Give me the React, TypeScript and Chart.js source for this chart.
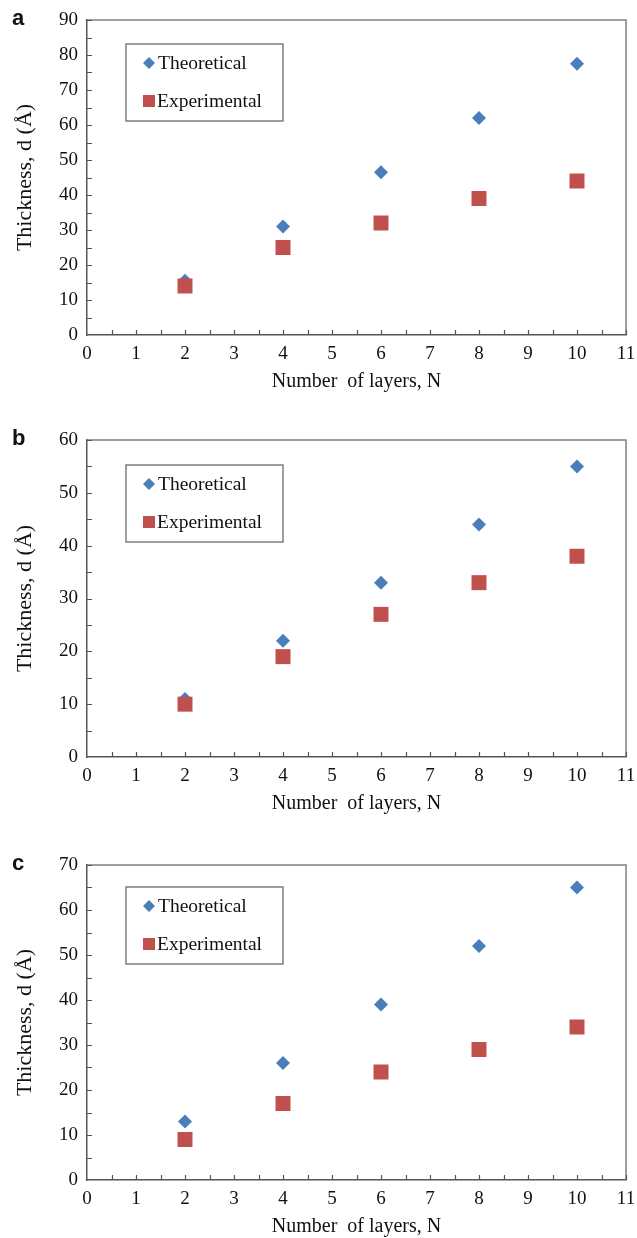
import React, { useEffect, useRef } from "react";
import { Chart, registerables } from "chart.js";

Chart.register(...registerables);

// Number of layers on the x axis
const layers = [2, 4, 6, 8, 10];

// Panel a
const theoreticalA = [15.5, 31, 46.5, 62, 77.5];
const experimentalA = [14, 25, 32, 39, 44];

// Panel b
const theoreticalB = [11, 22, 33, 44, 55];
const experimentalB = [10, 19, 27, 33, 38];

// Panel c
const theoreticalC = [13, 26, 39, 52, 65];
const experimentalC = [9, 17, 24, 29, 34];

const xMax = 11;
const yMaxes = [90, 60, 70];
const panelLetters = ["a", "b", "c"];
const seriesLabels = ["Theoretical", "Experimental"];
const xTitle = "Number  of layers, N";
const yTitle = "Thickness, d (Å)";

const BLUE = "#4a7ebb";
const RED = "#c0504d";
const AXIS = "#555555";
const FRAME = "#808080";
const SERIF = "'Liberation Serif', 'Times New Roman', serif";

type PanelGeom = {
  top: number;
  height: number;
  plotTop: number;
  plotBottom: number;
  legendTop: number;
};

const geoms: PanelGeom[] = [
  { top: 0, height: 410, plotTop: 20, plotBottom: 335, legendTop: 24 },
  { top: 410, height: 420, plotTop: 30, plotBottom: 347, legendTop: 25 },
  { top: 830, height: 408, plotTop: 35, plotBottom: 350, legendTop: 22 },
];

const PLOT_LEFT = 87;
const PLOT_RIGHT = 626;

// Frame, inward tick marks and the boxed legend
const frameTicks = {
  id: "frameTicks",
  afterDatasetsDraw(chart: any, _args: any, opts: any) {
    const { ctx, chartArea: a, scales } = chart;
    const x = scales.x;
    const y = scales.y;
    ctx.save();
    ctx.lineWidth = 1.5;
    ctx.strokeStyle = FRAME;
    ctx.beginPath();
    ctx.moveTo(a.left, a.top);
    ctx.lineTo(a.right, a.top);
    ctx.lineTo(a.right, a.bottom);
    ctx.stroke();

    ctx.strokeStyle = AXIS;
    ctx.lineWidth = 1.2;
    ctx.beginPath();
    for (let v = 5; v <= opts.yMax; v += 5) {
      const py = Math.round(y.getPixelForValue(v)) + 0.5;
      ctx.moveTo(a.left, py);
      ctx.lineTo(a.left + 5, py);
    }
    for (let v = 0.5; v <= xMax; v += 0.5) {
      const px = Math.round(x.getPixelForValue(v)) + 0.5;
      ctx.moveTo(px, a.bottom);
      ctx.lineTo(px, a.bottom - 5);
    }
    ctx.stroke();

    // legend box
    const bx = a.left + 39;
    const by = a.top + opts.legendTop;
    const bw = 157;
    const bh = 77;
    ctx.fillStyle = "#ffffff";
    ctx.fillRect(bx, by, bw, bh);
    ctx.strokeStyle = "#6a6a6a";
    ctx.lineWidth = 1.3;
    ctx.strokeRect(bx, by, bw, bh);

    const ds = chart.data.datasets;
    // diamond
    const d0y = by + 19;
    ctx.fillStyle = ds[0].backgroundColor;
    ctx.beginPath();
    ctx.moveTo(bx + 23, d0y - 6);
    ctx.lineTo(bx + 29, d0y);
    ctx.lineTo(bx + 23, d0y + 6);
    ctx.lineTo(bx + 17, d0y);
    ctx.closePath();
    ctx.fill();
    // square
    const d1y = by + 57;
    ctx.fillStyle = ds[1].backgroundColor;
    ctx.fillRect(bx + 17, d1y - 6, 12, 12);

    ctx.fillStyle = "#111111";
    ctx.font = `19.5px ${SERIF}`;
    ctx.textBaseline = "middle";
    ctx.textAlign = "left";
    ctx.fillText(ds[0].label, bx + 32, d0y + 1);
    ctx.fillText(ds[1].label, bx + 31, d1y + 1);
    ctx.restore();
  },
};

function Panel({ index, theo, exp }: { index: number; theo: number[]; exp: number[] }) {
  const ref = useRef<HTMLCanvasElement | null>(null);
  const g = geoms[index];
  const yMax = yMaxes[index];

  useEffect(() => {
    if (!ref.current) return;
    const chart = new Chart(ref.current, {
      type: "scatter",
      data: {
        datasets: [
          {
            label: seriesLabels[0],
            data: layers.map((n, i) => ({ x: n, y: theo[i] })),
            pointStyle: "rectRot",
            pointRadius: 7,
            borderWidth: 0,
            backgroundColor: BLUE,
            borderColor: BLUE,
            order: 1,
          },
          {
            label: seriesLabels[1],
            data: layers.map((n, i) => ({ x: n, y: exp[i] })),
            pointStyle: "rect",
            pointRadius: 10.6,
            borderWidth: 0,
            backgroundColor: RED,
            borderColor: RED,
            order: 0,
          },
        ],
      },
      options: {
        responsive: false,
        animation: false,
        events: [],
        layout: {
          padding: { top: g.plotTop, right: 637 - PLOT_RIGHT, left: 0, bottom: 0 },
        },
        plugins: {
          legend: { display: false },
          tooltip: { enabled: false },
          frameTicks: { yMax, legendTop: g.legendTop },
        } as any,
        scales: {
          x: {
            type: "linear",
            min: 0,
            max: xMax,
            grid: { display: false, drawTicks: false },
            border: { display: true, color: AXIS, width: 1.5 },
            ticks: {
              stepSize: 1,
              padding: 8,
              color: "#111111",
              font: { family: SERIF, size: 19 },
            },
            title: {
              display: true,
              text: xTitle,
              color: "#111111",
              font: { family: SERIF, size: 20 },
              padding: { top: 0, bottom: g.height - g.plotBottom - 59 },
            },
            afterFit: (s: any) => {
              s.height = g.height - g.plotBottom;
              s.paddingLeft = 0;
              s.paddingRight = 0;
            },
          },
          y: {
            type: "linear",
            min: 0,
            max: yMax,
            grid: { display: false, drawTicks: false },
            border: { display: true, color: AXIS, width: 1.5 },
            ticks: {
              stepSize: 10,
              padding: 9,
              color: "#111111",
              font: { family: SERIF, size: 19 },
            },
            title: {
              display: true,
              text: yTitle,
              color: "#111111",
              font: { family: SERIF, size: 22 },
              padding: { top: 12, bottom: 0 },
            },
            afterFit: (s: any) => {
              s.width = PLOT_LEFT;
              s.paddingTop = 0;
              s.paddingBottom = 0;
            },
          },
        },
      },
      plugins: [frameTicks],
    });
    return () => chart.destroy();
  }, []);

  return (
    <div style={{ position: "absolute", left: 0, top: g.top, width: 637, height: g.height }}>
      <canvas ref={ref} width={637} height={g.height} style={{ display: "block" }} />
      <div
        style={{
          position: "absolute",
          left: 12,
          top: g.plotTop - 14,
          fontFamily: "'Liberation Sans', Arial, sans-serif",
          fontWeight: "bold",
          fontSize: 22,
          lineHeight: "24px",
          color: "#111",
        }}
      >
        {panelLetters[index]}
      </div>
    </div>
  );
}

export default function App() {
  return (
    <div
      style={{
        position: "absolute",
        left: 0,
        top: 0,
        width: 637,
        height: 1238,
        background: "#ffffff",
        overflow: "hidden",
      }}
    >
      <Panel index={0} theo={theoreticalA} exp={experimentalA} />
      <Panel index={1} theo={theoreticalB} exp={experimentalB} />
      <Panel index={2} theo={theoreticalC} exp={experimentalC} />
    </div>
  );
}
